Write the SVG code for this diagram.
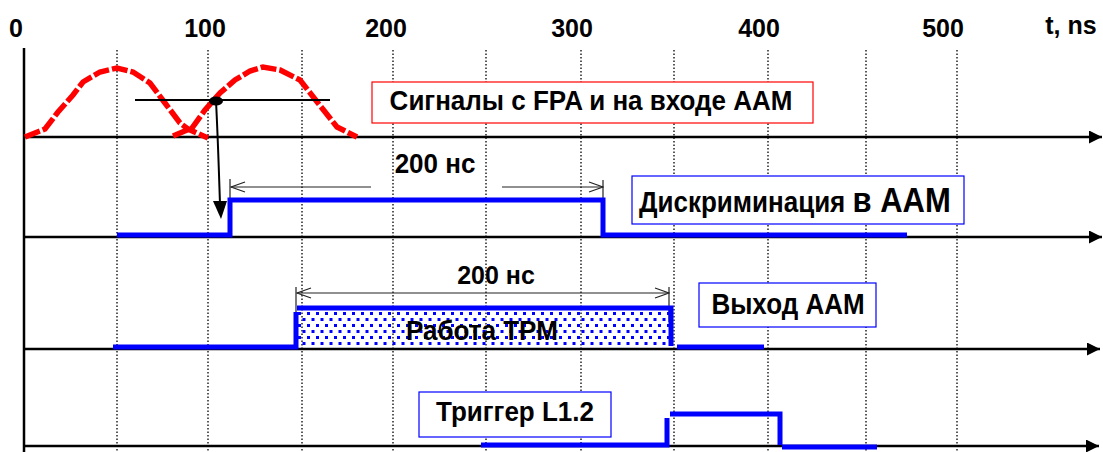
<svg xmlns="http://www.w3.org/2000/svg" width="1103" height="452" viewBox="0 0 1103 452">
<style>
.t{font-family:"Liberation Sans",Arial,sans-serif;font-weight:bold;fill:#000}
.ax{stroke:#000;stroke-width:2.5;fill:none}
.grid{stroke:#000;stroke-width:1.3;stroke-dasharray:1.5 2;fill:none}
.sig{stroke:#0000ff;stroke-width:5;fill:none}
.red{stroke:#ff0000;stroke-width:5.5;fill:none;stroke-dasharray:16 3}
.dim{stroke:#222;stroke-width:1.2;fill:none}
.boxb{fill:#fff;stroke:#0000ff;stroke-width:1.2}
.boxr{fill:#fff;stroke:#ff0000;stroke-width:1.2}
</style>
<defs>
<marker id="ah" markerUnits="userSpaceOnUse" markerWidth="14" markerHeight="14" refX="13" refY="6.5" orient="auto">
<path d="M0,0 L13,6.5 L0,13 z" fill="#000"/>
</marker>
<marker id="dh" markerUnits="userSpaceOnUse" markerWidth="16" markerHeight="12" refX="15" refY="6" orient="auto-start-reverse">
<path d="M1,1 L15,6 L1,11" fill="none" stroke="#222" stroke-width="1.2"/>
</marker>
<pattern id="dots" patternUnits="userSpaceOnUse" width="9" height="12" x="297" y="311">
<rect x="1" y="1" width="3" height="3" fill="#0000ff"/>
<rect x="5.5" y="7" width="3" height="3" fill="#0000ff"/>
</pattern>
</defs>

<g id="axis-labels">
<text class="t" x="16" y="37" font-size="25" text-anchor="middle">0</text>
<text class="t" x="205" y="37" font-size="25" text-anchor="middle">100</text>
<text class="t" x="386" y="37" font-size="25" text-anchor="middle">200</text>
<text class="t" x="572" y="37" font-size="25" text-anchor="middle">300</text>
<text class="t" x="759" y="37" font-size="25" text-anchor="middle">400</text>
<text class="t" x="943" y="37" font-size="25" text-anchor="middle">500</text>
<text class="t" x="1071" y="34" font-size="25" text-anchor="middle">t, ns</text>
</g>

<g id="grid">
<line class="grid" x1="117" y1="50" x2="117" y2="452"/>
<line class="grid" x1="208" y1="50" x2="208" y2="452"/>
<line class="grid" x1="302" y1="50" x2="302" y2="452"/>
<line class="grid" x1="393" y1="50" x2="393" y2="452"/>
<line class="grid" x1="486" y1="50" x2="486" y2="452"/>
<line class="grid" x1="581" y1="50" x2="581" y2="452"/>
<line class="grid" x1="674" y1="50" x2="674" y2="452"/>
<line class="grid" x1="768" y1="50" x2="768" y2="452"/>
<line class="grid" x1="866" y1="50" x2="866" y2="452"/>
<line class="grid" x1="957" y1="50" x2="957" y2="452"/>
</g>

<g id="axes">
<line class="ax" x1="24" y1="48" x2="24" y2="452"/>
<line class="ax" x1="24" y1="137" x2="1102" y2="137" marker-end="url(#ah)"/>
<line class="ax" x1="24" y1="237" x2="1102" y2="237" marker-end="url(#ah)"/>
<line class="ax" x1="24" y1="349" x2="1100" y2="349" marker-end="url(#ah)"/>
<line class="ax" x1="24" y1="446" x2="1099" y2="446" marker-end="url(#ah)"/>
</g>

<g id="fpa-signals">
<polyline class="red" points="25,137 45,129 58,112 73,95 83,82 100,72 117,68 133,72 150,83 165,103 180,123 188,129 208,138"/>
<polyline class="red" points="173,136 192,128 205,110 220,93 235,80 250,71 263,67 280,70 300,80 318,103 337,127 357,137"/>
<line x1="135" y1="100" x2="330" y2="100" stroke="#000" stroke-width="2"/>
<ellipse cx="216" cy="101" rx="7" ry="4.5" fill="#000"/>
</g>

<g id="connectors">
<path d="M216,101 C218,140 219,175 220,204" fill="none" stroke="#000" stroke-width="2"/>
<polygon points="213,201 227,201 221,219" fill="#000"/>
<line class="dim" x1="230" y1="179" x2="230" y2="212"/>
<line class="dim" x1="603" y1="180" x2="603" y2="199"/>
<line class="dim" x1="231" y1="187" x2="371" y2="187" marker-start="url(#dh)"/>
<line class="dim" x1="502" y1="187" x2="603" y2="187" marker-end="url(#dh)"/>
<line class="dim" x1="296" y1="287" x2="296" y2="322"/>
<line class="dim" x1="669" y1="287" x2="669" y2="322"/>
<line class="dim" x1="297" y1="293" x2="669" y2="293" marker-start="url(#dh)" marker-end="url(#dh)"/>
</g>

<g id="discrimination">
<polyline class="sig" points="117,235 230,235 230,200 603,200 603,235 907,235"/>
</g>

<g id="aam-output">
<rect x="298" y="310" width="372" height="37" fill="url(#dots)"/>
<polyline class="sig" points="113,347 296,347 296,312"/>
<polyline class="sig" points="297,308 671,308 671,346"/>
<line class="sig" x1="677" y1="347" x2="764" y2="347"/>
<text class="t" font-size="26" text-anchor="middle" transform="translate(482,340) scale(1,1.08)">Работа TPM</text>
</g>

<g id="trigger">
<polyline class="sig" points="481,445 667,445 667,418"/>
<polyline class="sig" points="670,414 780,414 780,445"/>
<line class="sig" x1="782" y1="447" x2="877" y2="447"/>
</g>

<g id="dim-labels">
<text class="t" font-size="26" text-anchor="middle" transform="translate(435,173) scale(1,1.05)">200 нс</text>
<text class="t" font-size="25" text-anchor="middle" transform="translate(496,284) scale(1,1.05)">200 нс</text>
</g>

<g id="label-fpa">
<rect class="boxr" x="372" y="82" width="441" height="41"/>
<text class="t" font-size="26" text-anchor="middle" transform="translate(591,110) scale(1,1.05)">Сигналы с FPA и на входе AAM</text>
</g>

<g id="label-discr">
<rect class="boxb" x="632" y="176" width="332" height="48"/>
<text class="t" font-size="26" transform="translate(639,212) scale(1,1.12)">Дискриминация <tspan font-size="31">в AAM</tspan></text>
</g>

<g id="label-out">
<rect class="boxb" x="699" y="283" width="177" height="44"/>
<text class="t" font-size="26" text-anchor="middle" transform="translate(788,314) scale(1,1.12)">Выход AAM</text>
</g>

<g id="label-trig">
<rect class="boxb" x="419" y="392" width="192" height="45"/>
<text class="t" font-size="26" text-anchor="middle" transform="translate(515,421) scale(1,1.05)">Триггер L1.2</text>
</g>
</svg>
